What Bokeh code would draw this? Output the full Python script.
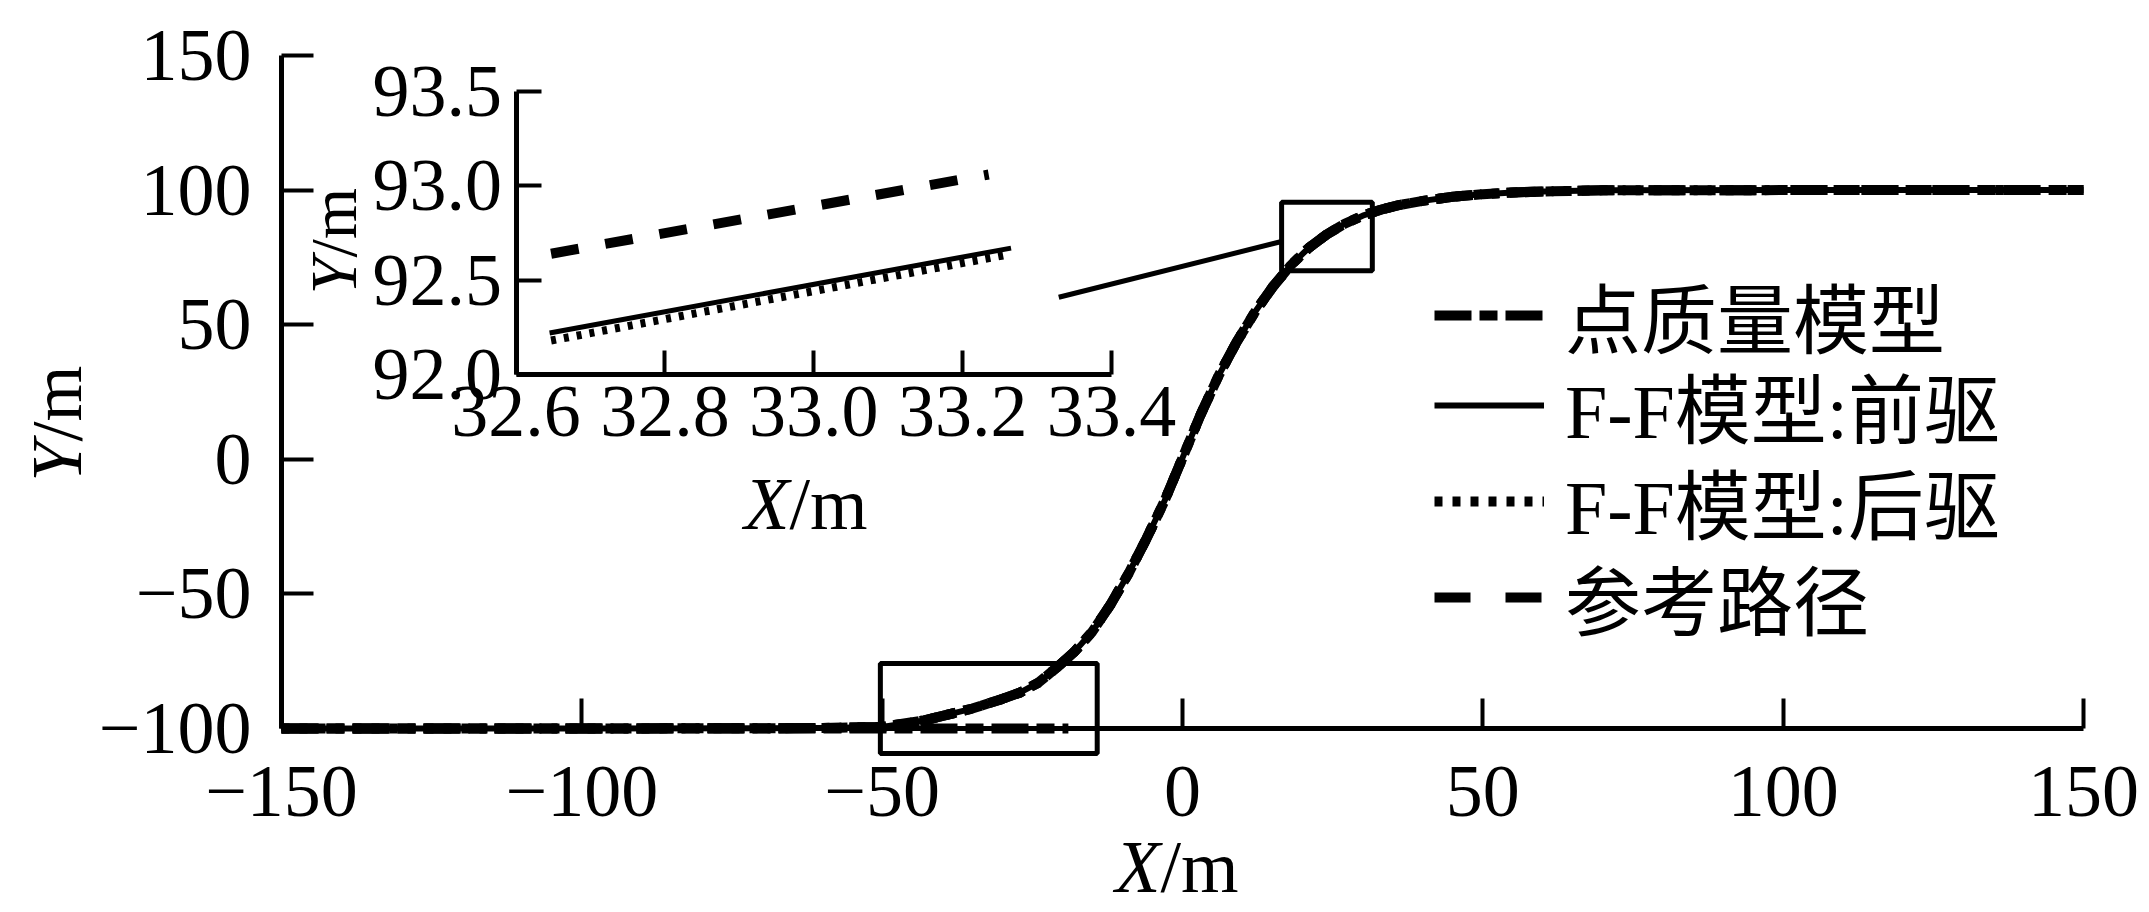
import math
from bokeh.plotting import figure
from bokeh.models import (Range1d, LinearAxis, FixedTicker, Label, Legend,
                          LegendItem)
from bokeh.embed import file_html
from bokeh.resources import INLINE

# ---------------- data ----------------
series_names = ["点质量模型", "F-F模型:前驱", "F-F模型:后驱", "参考路径"]

# main plot: the four paths coincide at this scale
path_x = [-150, -100, -70, -60, -50, -43, -35, -30, -27, -24, -21, -18, -15,
          -12, -9, -6, -3, 0, 3, 6, 9, 12, 15, 18, 21, 24, 27, 30, 33, 36,
          40, 45, 50, 55, 60, 70, 100, 150]
mass_y = [-100, -100, -99.9, -99.8, -99.4, -97.0, -92.6, -89.0, -86.6, -83.0,
          -77.5, -71.5, -64.0, -54.0, -42.5, -29.5, -15.5, 0.5, 16.5, 31.0,
          43.5, 54.5, 64.0, 72.0, 78.5, 83.5, 87.5, 90.5, 92.7, 94.4, 96.0,
          97.5, 98.5, 99.1, 99.5, 99.9, 100, 100]
front_y = list(mass_y)
rear_y = list(mass_y)
ref_y = list(mass_y)

# straight 点质量模型 piece lying on Y = -100
mass_tail_x = [-150, -19]
mass_tail_y = [-100, -100]

# inset (zoom) data
inset_ref_x = [32.647, 33.235]
inset_ref_y = [92.64, 93.06]
inset_front_x = [32.645, 33.265]
inset_front_y = [92.22, 92.67]
inset_rear_x = [32.647, 33.26]
inset_rear_y = [92.18, 92.635]

# zoom boxes and connector (data units of main plot)
box_left = [-50.3, 16.5]
box_right = [-14.2, 31.6]
box_bottom = [-109.3, 70.0]
box_top = [-75.9, 95.5]
conn_x = [-20.6, 16.5]
conn_y = [60.2, 80.9]

# ticks
x_ticks = [-150, -100, -50, 0, 50, 100, 150]
x_tick_labels = ["\u2212150", "\u2212100", "\u221250", "0", "50", "100", "150"]
y_ticks = [-100, -50, 0, 50, 100, 150]
y_tick_labels = ["\u2212100", "\u221250", "0", "50", "100", "150"]
ix_ticks = [32.6, 32.8, 33.0, 33.2, 33.4]
ix_tick_labels = ["32.6", "32.8", "33.0", "33.2", "33.4"]
iy_ticks = [92.0, 92.5, 93.0, 93.5]
iy_tick_labels = ["92.0", "92.5", "93.0", "93.5"]

# ---------------- layout (page pixels) ----------------
FONT = "Liberation Serif"
MIX_FONT = "Liberation Serif, Noto Sans CJK SC"
W, H = 2144, 908

# main axes placement
MX_L, MX_R = 281.0, 2083.0      # x = -150 .. 150
MY_B, MY_T = 728.0, 55.0        # y = -100 .. 150
sx = 300.0 / (MX_R - MX_L)
sy = 250.0 / (MY_B - MY_T)
XR = (-150 - MX_L * sx, 150 + (W - MX_R) * sx)
YR = (-100 - (H - MY_B) * sy, 150 + MY_T * sy)


def px2x(px):
    return XR[0] + px / W * (XR[1] - XR[0])


def py2y(py):
    return YR[0] + (H - py) / H * (YR[1] - YR[0])


# inset placement
IX_L, IX_R = 515.6, 1111.0      # 32.6 .. 33.4
IY_B, IY_T = 374.0, 91.0        # 92.0 .. 93.5
ixs = 0.8 / (IX_R - IX_L)
iys = 1.5 / (IY_B - IY_T)
ix_range = Range1d(32.6 - IX_L * ixs, 33.4 + (W - IX_R) * ixs)
iy_range = Range1d(92.0 - (H - IY_B) * iys, 93.5 + IY_T * iys)

p = figure(width=W, height=H, x_range=Range1d(*XR), y_range=Range1d(*YR),
           output_backend="svg", toolbar_location=None,
           x_axis_location=None, y_axis_location=None,
           min_border=0, min_border_left=0, min_border_right=0,
           min_border_top=0, min_border_bottom=0)
p.extra_x_ranges = {"ix": ix_range}
p.extra_y_ranges = {"iy": iy_range}
p.outline_line_color = None
p.background_fill_color = "white"
p.border_fill_color = "white"
p.xgrid.visible = False
p.ygrid.visible = False


def style_axis(ax, tick_len, standoff):
    ax.axis_line_width = 5
    ax.axis_line_color = "black"
    ax.major_tick_line_width = 4
    ax.major_tick_line_color = "black"
    ax.major_tick_in = tick_len
    ax.major_tick_out = 0
    ax.minor_tick_in = 0
    ax.minor_tick_out = 0
    ax.major_label_text_font = FONT
    ax.major_label_text_font_size = "74px"
    ax.major_label_text_color = "black"
    ax.major_label_standoff = standoff


ax_x = LinearAxis(ticker=FixedTicker(ticks=x_ticks, minor_ticks=[]),
                  major_label_overrides=dict(zip(x_ticks, x_tick_labels)),
                  fixed_location=-100, bounds=(-150, 150))
style_axis(ax_x, 30, 38)
p.add_layout(ax_x, "below")

ax_y = LinearAxis(ticker=FixedTicker(ticks=y_ticks, minor_ticks=[]),
                  major_label_overrides=dict(zip(y_ticks, y_tick_labels)),
                  fixed_location=-150, bounds=(-100, 150))
style_axis(ax_y, 32, 30)
p.add_layout(ax_y, "left")

ax_ix = LinearAxis(x_range_name="ix", y_range_name="iy",
                   ticker=FixedTicker(ticks=ix_ticks, minor_ticks=[]),
                   major_label_overrides=dict(zip(ix_ticks, ix_tick_labels)),
                   fixed_location=92.0, bounds=(32.6, 33.4))
style_axis(ax_ix, 24, 12)
p.add_layout(ax_ix, "below")

ax_iy = LinearAxis(x_range_name="ix", y_range_name="iy",
                   ticker=FixedTicker(ticks=iy_ticks, minor_ticks=[]),
                   major_label_overrides=dict(zip(iy_ticks, iy_tick_labels)),
                   fixed_location=32.6, bounds=(92.0, 93.5))
style_axis(ax_iy, 25, 14)
p.add_layout(ax_iy, "left")

# ---------------- series ----------------
styles = [
    dict(line_dash="37 8 18 8", line_width=10),
    dict(line_dash="solid", line_width=6),
    dict(line_dash="8 10", line_width=10),
    dict(line_dash="36 35", line_width=10),
]
main_ys = [mass_y, front_y, rear_y, ref_y]
renderers = []
for ys, st in zip(main_ys, styles):
    r = p.line(path_x, ys, line_color="black", line_cap="butt",
               line_join="round", **st)
    renderers.append(r)
p.line(mass_tail_x, mass_tail_y, line_color="black", line_cap="butt",
       **styles[0])

# inset series
p.line(inset_ref_x, inset_ref_y, x_range_name="ix", y_range_name="iy",
       line_color="black", line_width=10, line_dash="28 27", line_cap="butt")
p.line(inset_rear_x, inset_rear_y, x_range_name="ix", y_range_name="iy",
       line_color="black", line_width=8, line_dash="5 8", line_cap="butt")
p.line(inset_front_x, inset_front_y, x_range_name="ix", y_range_name="iy",
       line_color="black", line_width=5, line_cap="butt")

# zoom boxes + connector
p.quad(left=box_left, right=box_right, bottom=box_bottom, top=box_top,
       fill_color=None, line_color="black", line_width=5)
p.line(conn_x, conn_y, line_color="black", line_width=5)

# ---------------- legend: one entry per row, placed individually ----------------
ROW_CENTERS = [325, 415, 511, 607]
HALF_ITEM = 45
for name, r, cy in zip(series_names, renderers, ROW_CENTERS):
    lg = Legend(items=[LegendItem(label=name, renderers=[r])],
                location=(1434, H - cy - HALF_ITEM),
                glyph_width=110, glyph_height=60, label_height=60,
                label_standoff=21, spacing=0, padding=0, margin=0,
                border_line_color=None, background_fill_alpha=0,
                label_text_font=MIX_FONT, label_text_font_size="76px",
                label_text_color="black")
    p.add_layout(lg)


# ---------------- axis titles (italic variable + upright unit) ----------------
def title(px, py, var, unit, size, rotated):
    ang = math.pi / 2 if rotated else 0
    p.add_layout(Label(x=px2x(px), y=py2y(py), text=var, angle=ang,
                       text_font=FONT, text_font_style="italic",
                       text_font_size=size, text_align="right",
                       text_baseline="middle", text_color="black"))
    p.add_layout(Label(x=px2x(px), y=py2y(py), text=unit, angle=ang,
                       text_font=FONT, text_font_size=size,
                       text_align="left", text_baseline="middle",
                       text_color="black"))


title(1160, 866, "X", "/m", "74px", False)
title(56, 441, "Y", "/m", "72px", True)
title(789, 503, "X", "/m", "74px", False)
title(333, 257, "Y", "/m", "66px", True)

open("out.html", "w").write(file_html(p, INLINE))
